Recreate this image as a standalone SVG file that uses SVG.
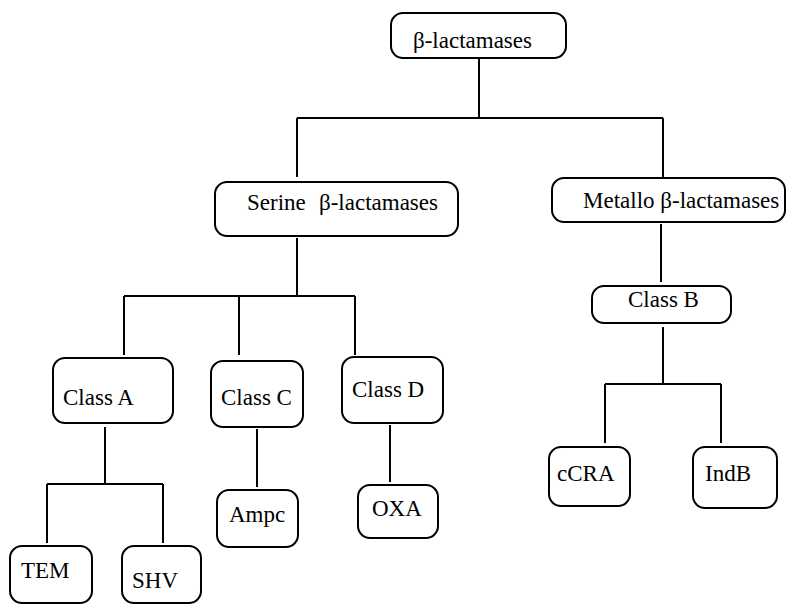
<svg xmlns="http://www.w3.org/2000/svg" width="787" height="605" viewBox="0 0 787 605">
<style>
.box{fill:#fff;stroke:#000;stroke-width:2}
.ln{fill:none;stroke:#000;stroke-width:2}
.t{font-family:'Liberation Serif','DejaVu Serif',serif;font-size:23px;fill:#000}
</style>
<rect width="787" height="605" fill="#fff"/>
<g id="connectors" class="ln">
<path d="M479,58 V118 M297,118 H663 M297,118 V177 M663,118 V177"/>
<path d="M297,238 V296 M124,296 H355 M124,296 V355 M239,296 V355 M355,296 V355"/>
<path d="M105,427 V484 M47,484 H163 M47,484 V543 M163,484 V543"/>
<path d="M257,429 V487"/>
<path d="M390,425 V482"/>
<path d="M661,224 V282"/>
<path d="M663,327 V384 M605,384 H721 M605,384 V443 M721,384 V443"/>
</g>
<g id="n-root"><rect class="box" x="391" y="13" width="175" height="45" rx="12"/><text class="t" x="413" y="48">β-lactamases</text></g>
<g id="n-serine"><rect class="box" x="215" y="182" width="243" height="54" rx="12"/><text class="t" x="247" y="210">Serine<tspan x="319">β-lactamases</tspan></text></g>
<g id="n-metallo"><rect class="box" x="552" y="178" width="233" height="44" rx="12"/><text class="t" x="583" y="208">Metallo β-lactamases</text></g>
<g id="n-classA"><rect class="box" x="53" y="358" width="120" height="65" rx="12"/><text class="t" x="63" y="405">Class A</text></g>
<g id="n-classC"><rect class="box" x="211" y="361" width="92" height="66" rx="12"/><text class="t" x="221" y="405">Class C</text></g>
<g id="n-classD"><rect class="box" x="342" y="357" width="101" height="66" rx="12"/><text class="t" x="352" y="397">Class D</text></g>
<g id="n-classB"><rect class="box" x="592" y="286" width="139" height="37" rx="12"/><text class="t" x="628" y="307">Class B</text></g>
<g id="n-tem"><rect class="box" x="10" y="546" width="82" height="57" rx="12"/><text class="t" x="21" y="578">TEM</text></g>
<g id="n-shv"><rect class="box" x="122" y="546" width="79" height="57" rx="12"/><text class="t" x="132" y="588">SHV</text></g>
<g id="n-ampc"><rect class="box" x="217" y="490" width="81" height="57" rx="12"/><text class="t" x="229" y="522">Ampc</text></g>
<g id="n-oxa"><rect class="box" x="358" y="485" width="80" height="53" rx="12"/><text class="t" x="372" y="516">OXA</text></g>
<g id="n-ccra"><rect class="box" x="549" y="447" width="81" height="59" rx="12"/><text class="t" x="557" y="481">cCRA</text></g>
<g id="n-indb"><rect class="box" x="693" y="447" width="84" height="61" rx="12"/><text class="t" x="705" y="481">IndB</text></g>
</svg>
